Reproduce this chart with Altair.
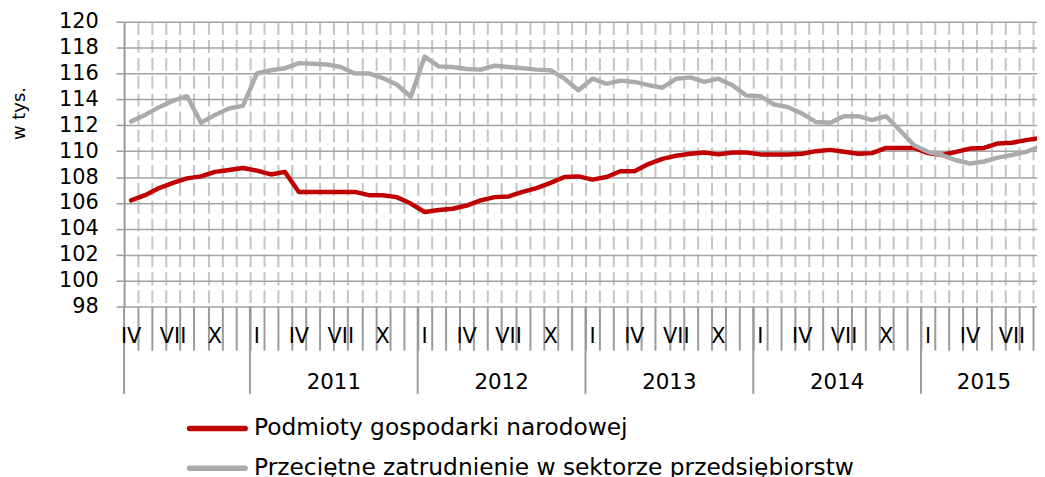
import altair as alt
import pandas as pd

# ---------------- data ----------------
start_year = 2010
start_month = 4
roman = ["I", "II", "III", "IV", "V", "VI", "VII", "VIII", "IX", "X", "XI", "XII"]

series_names = [
    "Podmioty gospodarki narodowej",
    "Przeciętne zatrudnienie w sektorze przedsiębiorstw",
]
series_colors = ["#C00000", "#ABABAB"]

# Podmioty gospodarki narodowej (IV 2010 - IX 2015), w tys.
red_values = [
    106.2, 106.6, 107.15, 107.55, 107.9, 108.05, 108.4, 108.55, 108.7,
    108.5, 108.2, 108.4, 106.85, 106.85, 106.85, 106.85, 106.85, 106.6, 106.6, 106.45, 105.95,
    105.3, 105.45, 105.55, 105.8, 106.2, 106.45, 106.5, 106.85, 107.15, 107.55, 108.0, 108.05,
    107.8, 108.0, 108.45, 108.45, 109.0, 109.4, 109.65, 109.8, 109.9, 109.75, 109.9, 109.9,
    109.75, 109.75, 109.75, 109.8, 110.0, 110.1, 109.95, 109.8, 109.85, 110.25, 110.25, 110.25,
    109.85, 109.7, 109.95, 110.2, 110.25, 110.6, 110.65, 110.85, 111.0,
]
# Przeciętne zatrudnienie w sektorze przedsiębiorstw
gray_values = [
    112.3, 112.8, 113.4, 113.9, 114.25, 112.2, 112.8, 113.3, 113.5,
    116.0, 116.25, 116.4, 116.8, 116.75, 116.7, 116.5, 116.0, 116.0, 115.65, 115.15, 114.2,
    117.3, 116.55, 116.5, 116.35, 116.3, 116.6, 116.5, 116.4, 116.3, 116.25, 115.6, 114.7,
    115.6, 115.2, 115.45, 115.35, 115.1, 114.9, 115.6, 115.7, 115.35, 115.6, 115.1, 114.3,
    114.25, 113.6, 113.4, 112.9, 112.25, 112.2, 112.7, 112.7, 112.4, 112.7, 111.6, 110.45,
    109.95, 109.7, 109.3, 109.05, 109.2, 109.5, 109.7, 109.95, 110.35,
]

y_ticks = list(range(98, 121, 2))
labelled_months = [1, 4, 7, 10]
labelled_years = [2011, 2012, 2013, 2014, 2015]

# ---------------- derived tables ----------------
n = len(red_values)
idx = list(range(n))
years = [start_year + (start_month - 1 + k) // 12 for k in idx]
months = [(start_month - 1 + k) % 12 + 1 for k in idx]

lines_df = pd.DataFrame(
    {
        "i": idx * 2,
        "value": red_values + gray_values,
        "series": [series_names[0]] * n + [series_names[1]] * n,
    }
)

month_lab_df = pd.DataFrame(
    {
        "i": [k for k in idx if months[k] in labelled_months],
        "label": [roman[months[k] - 1] for k in idx if months[k] in labelled_months],
    }
)

year_lab_df = pd.DataFrame(
    {
        "i": [sum(k for k in idx if years[k] == y) / sum(1 for k in idx if years[k] == y) for y in labelled_years],
        "label": [str(y) for y in labelled_years],
    }
)

year_bound_df = pd.DataFrame({"i": [-0.5] + [k - 0.5 for k in idx if months[k] == 1]})

legend_df = pd.DataFrame({"series": series_names, "order": list(range(len(series_names)))})

# ---------------- chart ----------------
FONT = "DejaVu Sans"
PX_PER_MONTH = 14.09
PLOT_W = 920
PLOT_H = 287

x_scale = alt.Scale(domain=[-0.5, -0.5 + PLOT_W / PX_PER_MONTH], nice=False, zero=False)
x_axis = alt.Axis(
    values=[k + 0.5 for k in range(n - 1)],
    labels=False,
    domain=False,
    title=None,
    ticks=True,
    tickSize=44,
    tickColor="#9A9A9A",
    tickWidth=2,
    grid=True,
    gridColor="#C4C4C4",
    gridWidth=2,
    gridDash=[13, 5],
)
x_enc = alt.X("i:Q", scale=x_scale, axis=x_axis)

y_scale = alt.Scale(domain=[98, 120], nice=False, zero=False)
y_axis = alt.Axis(
    values=y_ticks,
    grid=True,
    gridColor="#A3A3A3",
    gridWidth=1.5,
    domain=True,
    domainColor="#9A9A9A",
    domainWidth=2,
    ticks=True,
    tickSize=8,
    tickColor="#9A9A9A",
    tickWidth=1.5,
    labelFont=FONT,
    labelFontSize=21,
    labelColor="#000000",
    labelPadding=18,
    title="w tys.",
    titleFont=FONT,
    titleFontSize=18,
    titleFontWeight="normal",
    titleColor="#000000",
    titleAngle=270,
    titleX=-105,
    titleY=92,
    titleAlign="center",
    titleBaseline="middle",
)
y_enc = alt.Y("value:Q", scale=y_scale, axis=y_axis)

color_enc = alt.Color(
    "series:N", scale=alt.Scale(domain=series_names, range=series_colors), legend=None
)

base_lines = alt.Chart(lines_df)
red_line = base_lines.transform_filter(alt.datum.series == series_names[0]).mark_line(
    strokeWidth=4.5, strokeJoin="round", strokeCap="round", clip=True
).encode(x=x_enc, y=y_enc, color=color_enc)
gray_line = base_lines.transform_filter(alt.datum.series == series_names[1]).mark_line(
    strokeWidth=4.5, strokeJoin="round", strokeCap="round", clip=True
).encode(x=x_enc, y=y_enc, color=color_enc)

year_ticks = alt.Chart(year_bound_df).mark_rule(color="#9A9A9A", strokeWidth=2).encode(
    x=x_enc, y=alt.value(PLOT_H), y2=alt.value(PLOT_H + 88)
)

month_labels = alt.Chart(month_lab_df).mark_text(
    font=FONT, fontSize=21, color="#000000", align="center", baseline="middle"
).encode(x=x_enc, y=alt.value(PLOT_H + 31), text="label:N")

year_labels = alt.Chart(year_lab_df).mark_text(
    font=FONT, fontSize=21.5, color="#000000", align="center", baseline="middle"
).encode(x=x_enc, y=alt.value(PLOT_H + 77), text="label:N")

legend_base = alt.Chart(legend_df).transform_calculate(ly="410 + 40 * datum.order")
legend_symbols = legend_base.mark_rule(strokeWidth=5.5, strokeCap="round").encode(
    x=alt.value(66), x2=alt.value(122), y=alt.Y("ly:Q", scale=None), color=color_enc
)
legend_text = legend_base.mark_text(
    font=FONT, fontSize=23.5, color="#000000", align="left", baseline="middle"
).encode(x=alt.value(131), y=alt.Y("ly:Q", scale=None), text="series:N")

chart = (
    alt.layer(
        red_line,
        gray_line,
        year_ticks,
        month_labels,
        year_labels,
        legend_symbols,
        legend_text,
    )
    .properties(
        width=PLOT_W,
        height=PLOT_H,
        autosize=alt.AutoSizeParams(type="none"),
        padding={"left": 117, "top": 12, "right": 0, "bottom": 170},
        background="#FFFFFF",
    )
    .configure_view(stroke=None)
)

chart.save("out.html", embed_options={"renderer": "svg", "actions": False})
